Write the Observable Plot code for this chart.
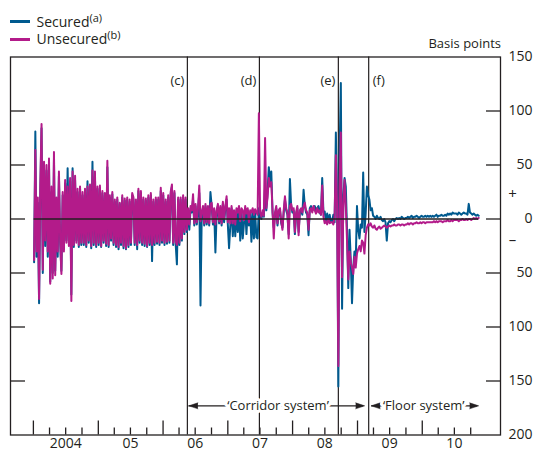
<!DOCTYPE html>
<html>
<head>
<meta charset="utf-8">
<script src="https://cdn.jsdelivr.net/npm/d3@7"></script>
<script src="https://cdn.jsdelivr.net/npm/@observablehq/plot@0.6"></script>
<style>
  html,body{margin:0;padding:0;background:#fff;}
  body{width:534px;height:455px;overflow:hidden;font-family:"Open Sans",sans-serif;color:#231f20;}
  #head{position:relative;width:534px;height:48px;}
  .row{position:absolute;left:10px;height:18px;display:flex;align-items:center;font-size:14px;white-space:nowrap;line-height:18px;}
  .sw{width:20px;height:2.5px;margin-right:6.5px;}
  .row sup{font-size:11px;line-height:0;position:relative;top:-5px;vertical-align:baseline;}
  #unit{position:absolute;right:33px;top:34px;font-size:13px;line-height:18px;}
  #chart svg{display:block;overflow:visible;}
</style>
</head>
<body>
<div id="head"></div>
<div id="chart"></div>
<script>
// ---------- data (weekly readings, basis points vs Bank Rate) ----------
const startDate = new Date(Date.UTC(2004, 0, 5));
const stepDays = 7;

const secured = [
  -40,81,-35,15,-78,25,84,-50,48,-25,45,-35,50,-58,25,-50,55,-48,15,-35,
  40,-22,-48,22,-28,33,-20,47,-22,35,-70,47,-26,36,-20,25,-26,28,-24,22,
  -24,26,-26,35,-22,30,-27,53,-24,40,-26,28,-24,29,-26,24,-22,22,-25,48,
  -26,20,-20,23,-24,16,-26,18,-28,14,-24,20,-27,17,-28,18,-26,16,-24,22,
  18,-24,16,-28,26,-22,24,-24,18,-25,17,-26,20,-24,22,-39,16,-24,18,-23,
  18,-24,26,-22,22,-24,16,-23,20,-22,23,30,-24,24,-23,-42,18,-24,18,-20,
  20,-14,18,-12,8,-10,10,6,18,-6,12,-5,8,24,-80,5,10,-6,12,-5,
  10,-6,25,12,-5,8,-31,6,12,-4,10,-6,14,-3,10,18,-5,-27,-6,10,
  -16,6,-16,8,-12,10,-20,8,-18,-4,10,-14,8,-6,6,-21,8,-18,7,-17,
  -18,10,4,0,6,2,30,8,25,48,35,44,6,-8,4,10,-6,6,8,-4,
  -8,6,18,8,4,-14,37,12,6,8,-14,4,10,-12,6,8,4,27,12,6,
  4,-15,10,12,8,10,12,8,10,12,6,4,38,6,7,-3,5,-2,4,-3,
  -2,4,-3,80,20,-155,60,126,-83,20,38,30,-10,-64,-10,-38,-78,-45,-30,-40,
  12,-10,-18,-5,-8,43,-12,5,30,22,18,8,10,3,2,0,3,1,0,2,
  -1,-2,0,-3,-20,-4,-2,-3,-1,0,-2,0,1,0,1,0,2,1,0,1,
  1,2,1,2,3,1,2,2,3,2,1,2,3,2,2,3,2,3,2,3,
  2,3,2,3,4,2,3,3,4,3,3,4,3,5,4,5,4,6,5,5,
  5,4,6,5,4,5,6,5,5,4,14,6,5,4,5,4,3,4,3
];

const unsecured = [
  -38,64,-30,20,-74,30,88,-47,53,-20,50,-30,56,-60,30,-55,62,-52,20,-30,
  44,-20,-51,25,-30,36,-22,30,-25,38,-76,44,-24,40,-22,28,-24,30,-22,25,
  -22,28,-24,30,-20,32,-25,45,-22,44,-24,30,-22,31,-25,26,-20,24,-23,54,
  -24,22,-18,25,-22,18,-24,20,-26,15,-22,22,-25,19,-27,20,-24,18,-22,24,
  20,-22,18,-24,28,-20,26,-22,20,-23,19,-25,22,-22,24,-24,18,-22,20,-21,
  20,-22,29,-20,24,-22,18,-21,22,-20,25,32,-22,26,-21,-24,20,-22,20,-18,
  22,-12,20,-10,10,-5,12,8,23,-4,14,-3,10,31,-2,6,12,-4,14,-3,
  12,-4,14,15,-3,10,-5,8,14,-2,12,-4,16,0,12,21,-3,10,-4,12,
  -4,8,-5,10,6,12,-2,10,8,-1,12,5,10,-3,8,6,10,4,9,6,
  4,98,6,2,8,3,75,10,20,38,30,34,8,-18,6,12,-4,8,10,-2,
  -10,8,21,10,6,-18,12,14,8,10,-12,6,12,-15,8,10,6,12,15,8,
  6,-10,8,10,6,12,8,5,10,6,8,4,31,2,-4,-2,-5,0,-4,-3,
  -3,-5,2,59,10,-136,30,80,-54,10,36,12,-20,-56,-30,-40,-45,-51,-35,-45,
  -32,-28,-25,-30,-20,-22,-32,-15,-8,-5,-6,-4,-7,-8,-6,-9,-10,-8,-7,-9,
  -8,-7,-6,-7,-8,-7,-6,-7,-6,-6,-5,-6,-6,-5,-5,-6,-5,-5,-6,-5,
  -5,-4,-5,-4,-4,-5,-4,-4,-3,-4,-4,-3,-4,-3,-3,-4,-3,-3,-3,-3,
  -3,-3,-2,-3,-2,-3,-2,-2,-2,-3,-2,-2,-2,-1,-2,-2,-1,-2,-1,-1,
  -1,-1,-2,-1,-1,0,-1,-1,0,-1,0,0,-1,0,1,0,1,0,1
];

const seriesNames = ["Secured", "Unsecured"];
const seriesNotes = ["(a)", "(b)"];
const seriesColors = ["#005a8f", "#b31b8a"];

const eventDates = ["2006-05-18", "2007-06-28", "2008-09-15", "2009-03-05"];
const eventLabels = ["(c)", "(d)", "(e)", "(f)"];

const yearLabels = ["2004", "05", "06", "07", "08", "09", "10"];
const yTickValues = [150, 100, 50, 0, -50, -100, -150, -200];
const yTickLabels = ["150", "100", "50", "0", "50", "100", "150", "200"];
const signValues = [23, -20];
const signLabels = ["+", "\u2013"];
const regimeLabels = ["\u2018Corridor system\u2019", "\u2018Floor system\u2019"];
const unitLabel = "Basis points";

// ---------- header (legend + unit) ----------
const head = document.getElementById("head");
const legendCenters = [21.7, 39.3];
seriesNames.forEach((name, k) => {
  const row = document.createElement("div");
  row.className = "row";
  row.style.top = (legendCenters[k] - 9) + "px";
  row.innerHTML = `<span class="sw" style="background:${seriesColors[k]}"></span><span>${name}<sup>${seriesNotes[k]}</sup></span>`;
  head.appendChild(row);
});
const unit = document.createElement("div");
unit.id = "unit";
unit.textContent = unitLabel;
head.appendChild(unit);

// ---------- build tables ----------
const ink = "#231f20";
const toDate = s => new Date(s + "T00:00:00Z");
const dates = secured.map((_, i) => d3.utcDay.offset(startDate, i * stepDays));
const table = [];
[secured, unsecured].forEach((vals, k) => {
  vals.forEach((v, i) => table.push({series: seriesNames[k], date: dates[i], value: v}));
});
const securedRows = table.filter(d => d.series === "Secured");
const unsecuredRows = table.filter(d => d.series === "Unsecured");

const xStart = toDate("2003-08-25"), xEnd = toDate("2011-03-18");
const quarters = d3.utcMonth.every(3).range(toDate("2004-01-01"), toDate("2010-10-02"));
const yearTicks = quarters.filter(d => d.getUTCMonth() === 0);
const minorTicks = quarters.filter(d => d.getUTCMonth() !== 0);
const yearMid = yearLabels.map((label, i) => ({date: new Date(Date.UTC(2004 + i, 6, 1)), label}));
const events = eventDates.map((d, i) => ({date: toDate(d), label: eventLabels[i]}));
const innerTicks = yTickValues.filter(v => v < 150 && v > -200);
const rightLabels = yTickValues.map((v, i) => ({v, label: yTickLabels[i]}));
const signs = signValues.map((v, i) => ({v, label: signLabels[i]}));

const cD = events[0].date, fD = events[3].date;
const firstD = dates[0], lastD = dates[dates.length - 1];
const mid = (a, b) => new Date((+a + +b) / 2);
const annY = -173;
const corridor = [{x1: cD, x2: fD, c: mid(cD, fD), label: regimeLabels[0]}];
const floor = [{x1: fD, x2: lastD, c: mid(fD, lastD), label: regimeLabels[1]}];

const W = 534, H = 407, mL = 10, mR = 34, mT = 8.5, mB = 20.5;
const innerW = W - mL - mR, innerH = H - mT - mB;

const headOpts = {y: () => annY, length: 9, anchor: "end", shape: "spike", r: 3, fill: ink, stroke: ink, strokeWidth: 0.5};

const chart = Plot.plot({
  width: W, height: H,
  marginLeft: mL, marginRight: mR, marginTop: mT, marginBottom: mB,
  x: {type: "utc", domain: [xStart, xEnd], axis: null},
  y: {domain: [-200, 150], axis: null},
  style: {fontFamily: '"Open Sans", sans-serif', fontSize: "14px", color: ink, background: "white", overflow: "visible"},
  marks: [
    Plot.tickX(yearTicks, {x: d => d, insetTop: innerH - 14, stroke: ink, strokeWidth: 1.3}),
    Plot.tickX(minorTicks, {x: d => d, insetTop: innerH - 7, stroke: ink, strokeWidth: 1.3}),
    Plot.tickY(innerTicks, {y: d => d, insetRight: innerW - 15, stroke: ink, strokeWidth: 1.3}),
    Plot.tickY(innerTicks, {y: d => d, insetLeft: innerW - 14, stroke: ink, strokeWidth: 1.3}),
    Plot.ruleX(events, {x: "date", stroke: ink, strokeWidth: 1.2}),
    Plot.line(securedRows, {x: "date", y: "value", stroke: seriesColors[0], strokeWidth: 2, strokeLinejoin: "round"}),
    Plot.line(unsecuredRows, {x: "date", y: "value", stroke: seriesColors[1], strokeWidth: 2, strokeLinejoin: "round"}),
    Plot.ruleY([0], {x1: () => firstD, x2: () => lastD, stroke: ink, strokeWidth: 1.6}),
    Plot.frame({stroke: ink, strokeWidth: 1.3}),
    Plot.text(events.slice(0, 3), {x: "date", text: "label", frameAnchor: "top", dy: 18.5, dx: -3, textAnchor: "end", fontSize: 13, fill: ink}),
    Plot.text(events.slice(3), {x: "date", text: "label", frameAnchor: "top", dy: 18.5, dx: 4, textAnchor: "start", fontSize: 13, fill: ink}),
    // regime annotations
    Plot.ruleY(corridor, {y: () => annY, x1: "x1", x2: "x2", insetLeft: 1.5, insetRight: 5, stroke: ink, strokeWidth: 1.2}),
    Plot.ruleY(floor, {y: () => annY, x1: "x1", x2: "x2", insetLeft: 3, insetRight: 1, stroke: ink, strokeWidth: 1.2}),
    Plot.vector(corridor, {...headOpts, x: "x1", rotate: -90, dx: 1.5}),
    Plot.vector(corridor, {...headOpts, x: "x2", rotate: 90, dx: -4}),
    Plot.vector(floor, {...headOpts, x: "x1", rotate: -90, dx: 2.5}),
    Plot.vector(floor, {...headOpts, x: "x2", rotate: 90, dx: 0}),
    Plot.text(corridor, {x: "c", y: () => annY, text: "label", fontSize: 13, fill: ink, stroke: "white", strokeWidth: 6, paintOrder: "stroke"}),
    Plot.text(floor, {x: "c", y: () => annY, text: "label", fontSize: 13, fill: ink, stroke: "white", strokeWidth: 6, paintOrder: "stroke"}),
    // axes labels
    Plot.text(yearMid, {x: "date", text: "label", frameAnchor: "bottom", dy: 13, fontSize: 14, fill: ink}),
    Plot.text(rightLabels, {y: "v", text: "label", frameAnchor: "right", dx: 32, textAnchor: "end", fontSize: 14, fill: ink}),
    Plot.text(signs, {y: "v", text: "label", frameAnchor: "right", dx: 12, textAnchor: "middle", fontSize: 15, fill: ink})
  ]
});
document.getElementById("chart").appendChild(chart);
</script>
</body>
</html>
